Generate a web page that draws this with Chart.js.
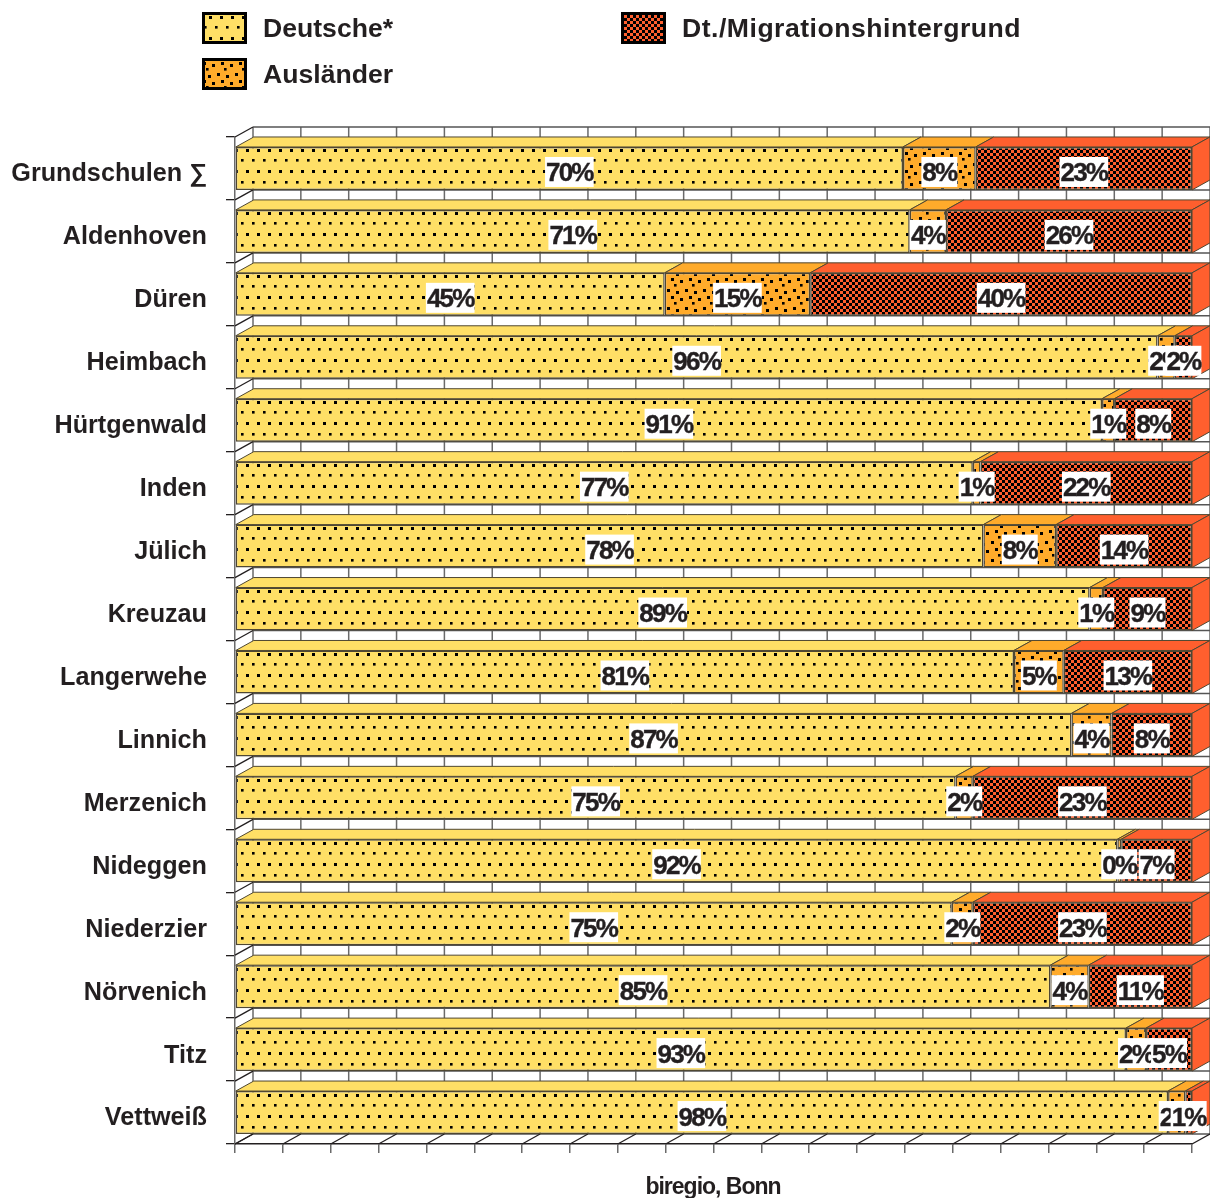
<!DOCTYPE html>
<html><head><meta charset="utf-8">
<script src="https://cdn.jsdelivr.net/npm/chart.js@4/dist/chart.umd.min.js"></script>
<style>html,body{margin:0;padding:0;background:#fff}#w{position:relative;width:1210px;height:1198px}canvas{display:block}</style>
</head><body><div id="w"><canvas id="c" width="1210" height="1198"></canvas></div>
<script>
const categories = ["Grundschulen ∑","Aldenhoven","Düren","Heimbach","Hürtgenwald","Inden","Jülich","Kreuzau","Langerwehe","Linnich","Merzenich","Nideggen","Niederzier","Nörvenich","Titz","Vettweiß"];
const deutsche  = [69.8,70.5,44.9,96.4,90.6,77.1,78.2,89.3,81.4,87.4,75.3,92.2,74.9,85.2,93.1,97.5];
const auslaender= [ 7.6, 3.8,15.2, 1.8, 1.3, 0.8, 7.6, 1.4, 5.2, 4.2, 1.8, 0.4, 2.2, 4.0, 2.1, 1.8];
const migration = [22.6,25.7,39.9, 1.8, 8.1,22.1,14.2, 9.3,13.4, 8.4,22.9, 7.4,22.9,10.8, 4.8, 0.7];
const seriesNames = ["Deutsche*","Ausländer","Dt./Migrationshintergrund"];
const seriesColors = ["#FFDF66","#FFAB2B","#FF5F2E"];
const sourceText = "biregio, Bonn";
const DX=18, DY=10, INK="#231f20", EDGE="#4f4732";

function tile(w,h,bg,rects){const c=document.createElement('canvas');c.width=w;c.height=h;const x=c.getContext('2d');x.fillStyle=bg;x.fillRect(0,0,w,h);x.fillStyle='#000';rects.forEach(d=>x.fillRect(d[0],d[1],d[2],d[3]));return x.createPattern(c,'repeat');}
const ctxMain=document.getElementById('c').getContext('2d');
const patterns=[
 tile(11,63,seriesColors[0],[[4,23,3,3],[10,33,2.6,2.6],[0,33,1.6,2.6],[4,44,3,3],[10,55,2.6,2.6],[0,55,1.6,2.6],[4,1,3,2]]),
 tile(18,18,seriesColors[1],[[1,1,3,3],[10,3,3,3],[5,8,3,3],[14,10,3,3],[8,14,2.6,2.6]]),
 tile(6,6,seriesColors[2],[[0,0,3,3],[3,3,3,3]])
];

const scene3d={id:'scene3d',
 beforeDatasetsDraw(ch){
  const {ctx,scales:{x,y},chartArea:a}=ch;
  ctx.save();
  const step=y.getPixelForValue(1)-y.getPixelForValue(0);
  const tx=x.ticks.map(t=>x.getPixelForValue(t.value));
  ctx.lineWidth=1.5;ctx.strokeStyle='#6a6a6a';
  tx.forEach(p=>{ctx.beginPath();ctx.moveTo(p+DX,a.top-DY);ctx.lineTo(p+DX,a.bottom-DY);ctx.stroke();});
  ctx.strokeStyle='#555';
  for(let i=0;i<=categories.length;i++){const yy=a.top+step*i-DY;
    ctx.beginPath();ctx.moveTo(a.left+DX,yy);ctx.lineTo(a.right+DX,yy);ctx.stroke();}
  ctx.strokeStyle=INK;ctx.lineWidth=1.3;
  for(let i=0;i<=categories.length;i++){const yy=a.top+step*i;
    ctx.beginPath();ctx.moveTo(a.left,yy);ctx.lineTo(a.left+DX,yy-DY);ctx.stroke();}
  tx.forEach(p=>{ctx.beginPath();ctx.moveTo(p,a.bottom);ctx.lineTo(p+DX,a.bottom-DY);ctx.stroke();});
  ctx.strokeStyle=EDGE;ctx.lineWidth=1;
  categories.forEach((_,i)=>{
   [0,1,2].forEach(d=>{
    const b=ch.getDatasetMeta(d).data[i];
    const top=b.y-b.height/2,bot=b.y+b.height/2,l=b.base,r=b.x;
    ctx.fillStyle=seriesColors[d];
    ctx.beginPath();ctx.moveTo(l,top);ctx.lineTo(l+DX,top-DY);ctx.lineTo(r+DX,top-DY);ctx.lineTo(r,top);ctx.closePath();ctx.fill();ctx.stroke();
    if(d===2){ctx.beginPath();ctx.moveTo(r,top);ctx.lineTo(r+DX,top-DY);ctx.lineTo(r+DX,bot-DY);ctx.lineTo(r,bot);ctx.closePath();ctx.fill();ctx.stroke();}
   });
  });
  ctx.restore();
 },
 afterDatasetsDraw(ch){
  const {ctx}=ch;
  ctx.save();
  ctx.font='bold 26px "Liberation Sans"';ctx.letterSpacing='-1.8px';ctx.textAlign='center';ctx.textBaseline='alphabetic';
  ctx.lineWidth=0.4;ctx.strokeStyle=INK;
  categories.forEach((_,i)=>{[0,1,2].forEach(d=>{
    const b=ch.getDatasetMeta(d).data[i];
    const v=ch.data.datasets[d].data[i];
    const s=Math.round(v)+'%';
    const cx=(b.base+b.x)/2, cy=b.y+3.5;
    const w=ctx.measureText(s).width+2;
    ctx.fillStyle='#fff';ctx.fillRect(cx-w/2,cy-15,w,30);
    ctx.fillStyle=INK;ctx.fillText(s,cx,cy+9.5);ctx.strokeText(s,cx,cy+9.5);
  });});
  const lg=[[202,12,0,-4,-7,'0px'],[202,58,1,0,0,'0px'],[621,12,2,0,0,'0.5px']];
  lg.forEach(([lx,ly,d,px,py,ls])=>{
    ctx.save();ctx.translate(px,py);ctx.fillStyle=patterns[d];ctx.fillRect(lx-px,ly-py,45,32);ctx.restore();
    ctx.strokeStyle='#000';ctx.lineWidth=3;ctx.strokeRect(lx+1.5,ly+1.5,42,29);
    ctx.letterSpacing=ls;
    ctx.fillStyle=INK;ctx.font='bold 26.6px "Liberation Sans"';ctx.textAlign='left';
    ctx.fillText(seriesNames[d],lx+61,ly+24.5);
  });
  ctx.font='bold 23px "Liberation Sans"';ctx.letterSpacing='-1px';ctx.textAlign='center';
  ctx.fillText(sourceText,713,1194);
  ctx.restore();
 }
};

new Chart(ctxMain,{type:'bar',
 data:{labels:categories,datasets:[0,1,2].map(i=>({label:seriesNames[i],data:[deutsche,auslaender,migration][i],backgroundColor:patterns[i],borderColor:EDGE,borderWidth:1.5,borderSkipped:false}))},
 options:{indexAxis:'y',responsive:false,animation:false,devicePixelRatio:1,
  barPercentage:1,categoryPercentage:0.683,
  layout:{padding:{left:0,top:137,right:18,bottom:45}},
  plugins:{legend:{display:false},tooltip:{enabled:false},title:{display:false}},
  scales:{
   x:{stacked:true,min:0,max:100,ticks:{stepSize:5,display:false},
      grid:{drawOnChartArea:false,drawTicks:true,tickLength:9,color:'#6a6a6a',lineWidth:1.5},
      border:{display:true,color:INK,width:1.5},afterFit(s){s.height=9;}},
   y:{stacked:true,ticks:{color:INK,font:{family:'"Liberation Sans"',size:25.2,weight:'bold'},padding:19,labelOffset:6,autoSkip:false},
      grid:{drawOnChartArea:false,drawTicks:true,tickLength:9,color:INK,lineWidth:1.3},
      border:{display:true,color:'#6a6a6a',width:1.5},afterFit(s){s.width=235;}}
  }},
 plugins:[scene3d]});
</script></body></html>
